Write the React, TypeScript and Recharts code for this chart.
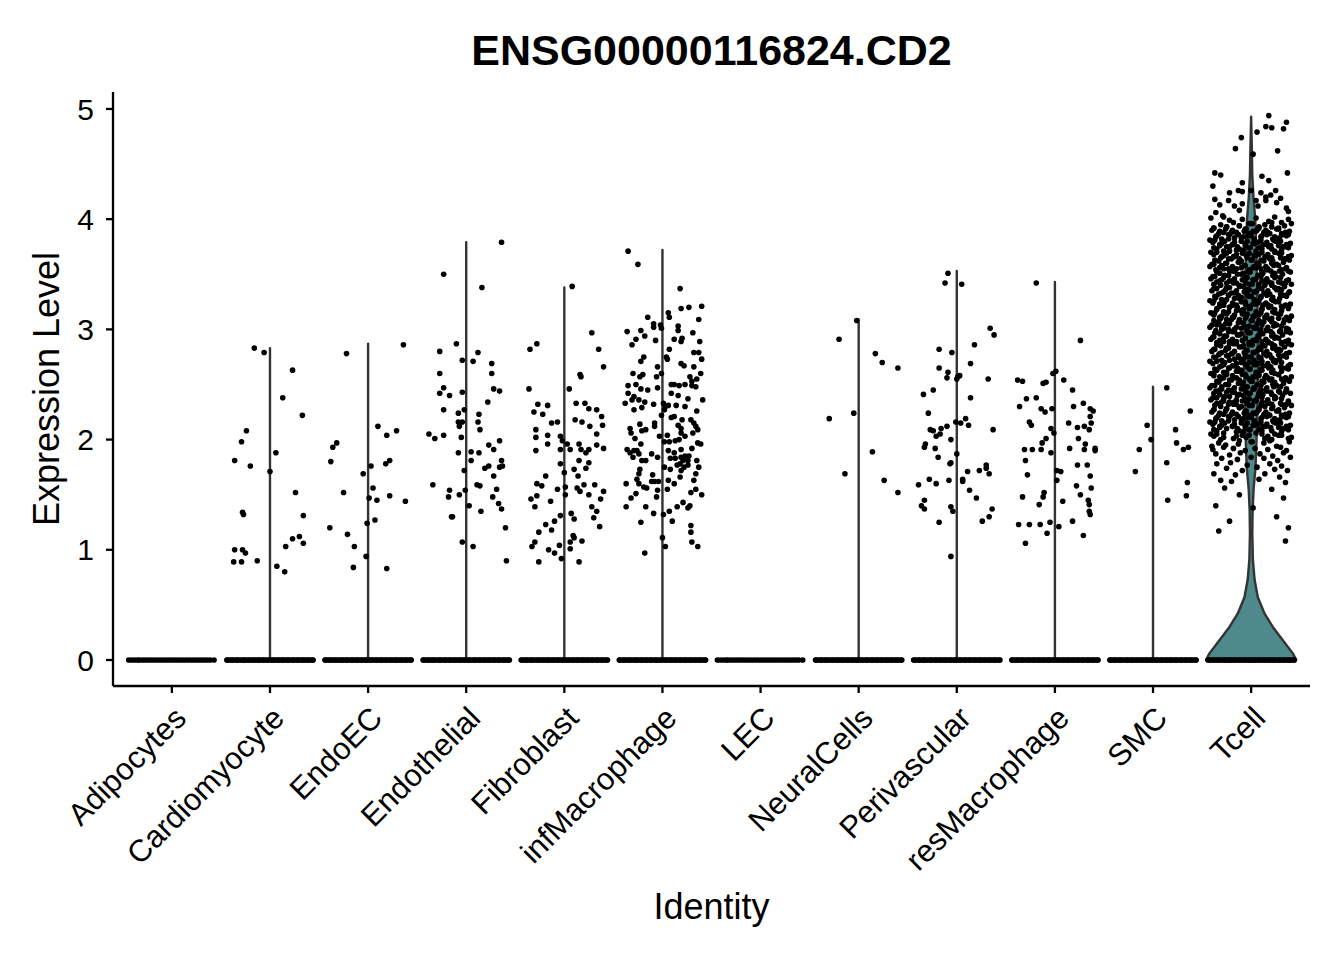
import React from "react";
import { ComposedChart, Scatter, XAxis, YAxis } from "recharts";

// cell identities on the x axis
const categories = [
  "Adipocytes",
  "Cardiomyocyte",
  "EndoEC",
  "Endothelial",
  "Fibroblast",
  "infMacrophage",
  "LEC",
  "NeuralCells",
  "Perivascular",
  "resMacrophage",
  "SMC",
  "Tcell",
];

const yTicks = [0, 1, 2, 3, 4, 5];

// highest expression per group (top of each violin)
const violinTops = [0, 2.83, 2.87, 3.79, 3.38, 3.72, 0, 3.09, 3.53, 3.43, 2.48, 4.93];

// Tcell violin outline: [expression, half width in category units]
const tcellViolin: [number, number][] = [
  [0, 0.46], [0.06, 0.425], [0.18, 0.323], [0.3, 0.221], [0.42, 0.137],
  [0.57, 0.068], [0.73, 0.035], [0.91, 0.018], [1.15, 0.012], [1.35, 0.015],
  [1.55, 0.025], [1.75, 0.045], [2.0, 0.055], [2.3, 0.064], [2.6, 0.07],
  [2.9, 0.07], [3.2, 0.065], [3.5, 0.058], [3.8, 0.05], [4.0, 0.042],
  [4.2, 0.024], [4.4, 0.012], [4.7, 0.006], [4.93, 0],
];

// jitter of the cells sitting at zero
const zeroDense = [
  -0.44, -0.43, -0.41, -0.39, -0.38, -0.36, -0.34, -0.33, -0.31, -0.29, -0.27, -0.26,
  -0.24, -0.22, -0.21, -0.19, -0.17, -0.16, -0.14, -0.12, -0.11, -0.09, -0.07, -0.06,
  -0.04, -0.02, -0.01, 0.01, 0.03, 0.04, 0.06, 0.08, 0.09, 0.11, 0.13, 0.14, 0.16,
  0.18, 0.19, 0.21, 0.23, 0.24, 0.26, 0.28, 0.29, 0.31, 0.33, 0.34, 0.36, 0.38, 0.39,
  0.41, 0.43, 0.44,
];
const zeroSparse = [
  -0.44, -0.41, -0.38, -0.35, -0.33, -0.3, -0.27, -0.24, -0.21, -0.18, -0.15, -0.12,
  -0.09, -0.06, -0.03, 0.0, 0.03, 0.06, 0.09, 0.12, 0.15, 0.18, 0.21, 0.24, 0.27, 0.3,
  0.33, 0.36, 0.39, 0.43,
];

// non-zero cells: [jitter, expression]
const cardiomyocytePts: [number, number][] = [
  [-0.16, 2.83], [-0.06, 2.79], [0.23, 2.63], [0.13, 2.38], [0.33, 2.22], [-0.24, 2.08],
  [-0.29, 1.98], [0.06, 1.88], [-0.36, 1.81], [-0.2, 1.76], [0.0, 1.71], [0.26, 1.52],
  [-0.28, 1.34], [-0.27, 1.32], [0.34, 1.31], [0.23, 1.1], [0.3, 1.12], [0.34, 1.06],
  [0.16, 1.03], [-0.36, 1.0], [-0.28, 1.0], [-0.25, 0.97], [-0.37, 0.89], [-0.29, 0.89],
  [-0.13, 0.9], [0.07, 0.85], [0.15, 0.8],
];

const endoECPts: [number, number][] = [
  [0.36, 2.86], [-0.22, 2.78], [0.1, 2.12], [0.29, 2.08], [0.19, 2.04], [-0.32, 1.97],
  [-0.36, 1.93], [-0.38, 1.8], [0.22, 1.81], [0.18, 1.78], [0.03, 1.76], [-0.05, 1.69],
  [0.05, 1.56], [-0.25, 1.52], [0.01, 1.47], [0.09, 1.45], [0.22, 1.49], [0.38, 1.44],
  [0.07, 1.27], [-0.01, 1.24], [-0.39, 1.2], [-0.21, 1.14], [-0.14, 1.03], [-0.02, 0.94],
  [-0.15, 0.84], [0.19, 0.83],
];

const endothelialPts: [number, number][] = [
  [0.36, 3.79], [-0.23, 3.5], [0.16, 3.38], [-0.1, 2.87], [-0.27, 2.8], [0.12, 2.79],
  [-0.04, 2.72], [0.07, 2.71], [0.26, 2.69], [-0.27, 2.6], [0.26, 2.6], [-0.23, 2.47],
  [-0.27, 2.42], [-0.17, 2.4], [-0.04, 2.43], [0.28, 2.46], [0.34, 2.44], [0.22, 2.34],
  [-0.23, 2.27], [-0.08, 2.24], [-0.02, 2.27], [0.13, 2.23], [-0.08, 2.16], [-0.04, 2.16],
  [0.12, 2.16], [-0.07, 2.12], [0.14, 2.09], [-0.38, 2.05], [-0.32, 2.01], [-0.23, 2.04],
  [-0.05, 2.02], [0.34, 1.99], [0.23, 1.95], [0.28, 1.91], [0.05, 1.89], [-0.08, 1.88],
  [0.13, 1.88], [0.05, 1.81], [0.36, 1.81], [0.34, 1.75], [0.37, 1.76], [0.19, 1.74],
  [0.23, 1.76], [-0.02, 1.72], [0.28, 1.67], [-0.34, 1.59], [0.11, 1.59], [0.14, 1.58],
  [-0.17, 1.54], [-0.01, 1.54], [0.31, 1.55], [-0.18, 1.48], [-0.07, 1.5], [0.27, 1.48],
  [0.33, 1.42], [0.03, 1.4], [0.36, 1.37], [0.15, 1.35], [-0.15, 1.3], [-0.14, 1.3],
  [0.4, 1.2], [-0.04, 1.07], [0.07, 1.03], [0.41, 0.9],
];

const fibroblastPts: [number, number][] = [
  [0.08, 3.39], [0.28, 2.97], [-0.28, 2.87], [-0.35, 2.82], [0.35, 2.82], [0.4, 2.66],
  [0.16, 2.59], [0.17, 2.57], [-0.36, 2.46], [0.05, 2.46], [-0.27, 2.32], [-0.17, 2.31],
  [0.12, 2.33], [0.21, 2.33], [-0.31, 2.25], [-0.22, 2.23], [0.25, 2.28], [0.33, 2.27],
  [0.11, 2.18], [0.18, 2.16], [-0.13, 2.15], [-0.07, 2.16], [0.38, 2.21], [0.39, 2.13],
  [0.26, 2.12], [-0.29, 2.09], [-0.29, 2.02], [-0.17, 2.04], [-0.04, 2.03], [0.33, 2.05],
  [-0.02, 1.99], [0.03, 1.96], [-0.29, 1.9], [-0.17, 1.96], [-0.04, 1.91], [0.06, 1.91],
  [0.15, 1.96], [0.17, 1.91], [0.22, 1.88], [0.25, 1.91], [0.33, 1.95], [0.4, 1.92],
  [0.15, 1.81], [0.25, 1.79], [-0.04, 1.78], [0.22, 1.74], [0.0, 1.7], [0.1, 1.73],
  [-0.19, 1.67], [0.14, 1.67], [-0.28, 1.6], [-0.23, 1.58], [0.01, 1.57], [0.13, 1.56],
  [0.2, 1.59], [0.31, 1.59], [-0.07, 1.55], [0.16, 1.53], [0.4, 1.53], [-0.28, 1.49],
  [0.01, 1.5], [0.25, 1.5], [0.37, 1.46], [-0.34, 1.46], [-0.3, 1.39], [-0.14, 1.44],
  [-0.04, 1.31], [0.07, 1.33], [0.1, 1.28], [0.28, 1.39], [0.33, 1.35], [0.3, 1.29],
  [0.36, 1.21], [-0.26, 1.16], [-0.19, 1.23], [-0.13, 1.18], [-0.1, 1.26], [0.09, 1.13],
  [0.1, 1.11], [-0.3, 1.07], [-0.33, 1.03], [-0.05, 1.04], [0.06, 1.07], [0.18, 1.08],
  [0.06, 1.01], [-0.16, 1.0], [-0.1, 0.97], [-0.03, 0.92], [-0.26, 0.89], [0.15, 0.89],
];

const infMacrophagePts: [number, number][] = [
  [-0.35, 3.71], [-0.25, 3.59], [0.18, 3.37], [0.19, 3.19], [0.27, 3.2], [0.4, 3.21],
  [0.06, 3.15], [0.07, 3.11], [-0.15, 3.11], [0.37, 3.09], [-0.09, 3.05], [-0.09, 3.02],
  [-0.02, 3.04], [-0.01, 3.01], [0.16, 3.03], [0.16, 2.99], [-0.36, 2.98], [-0.22, 2.99],
  [0.31, 2.97], [-0.18, 2.94], [-0.27, 2.91], [-0.07, 2.9], [0.12, 2.91], [0.2, 2.92],
  [0.19, 2.89], [0.38, 2.89], [-0.31, 2.86], [0.07, 2.82], [0.32, 2.79], [0.37, 2.79],
  [-0.19, 2.75], [-0.22, 2.71], [0.04, 2.75], [0.05, 2.73], [0.4, 2.73], [0.19, 2.69],
  [0.22, 2.67], [-0.05, 2.66], [0.32, 2.66], [-0.3, 2.6], [-0.23, 2.57], [-0.2, 2.59],
  [-0.06, 2.57], [-0.01, 2.6], [0.28, 2.57], [0.3, 2.53], [0.35, 2.55], [0.39, 2.6],
  [-0.35, 2.49], [-0.27, 2.5], [-0.22, 2.46], [-0.15, 2.45], [-0.05, 2.47], [0.09, 2.5],
  [0.12, 2.5], [0.17, 2.49], [0.23, 2.5], [0.3, 2.49], [0.34, 2.48], [-0.35, 2.42],
  [-0.29, 2.39], [-0.31, 2.36], [-0.38, 2.33], [-0.24, 2.36], [-0.18, 2.34], [-0.21, 2.29],
  [-0.09, 2.32], [0.09, 2.42], [0.16, 2.4], [0.26, 2.37], [0.41, 2.36], [0.01, 2.33],
  [0.03, 2.3], [0.06, 2.31], [0.02, 2.27], [0.14, 2.31], [0.23, 2.3], [0.35, 2.26],
  [-0.29, 2.27], [0.09, 2.2], [0.12, 2.21], [0.2, 2.18], [0.29, 2.18], [-0.01, 2.22],
  [-0.23, 2.14], [-0.08, 2.15], [-0.08, 2.12], [0.16, 2.13], [0.19, 2.1], [0.32, 2.15],
  [0.34, 2.12], [0.36, 2.09], [-0.33, 2.1], [-0.32, 2.06], [-0.17, 2.09], [-0.21, 2.08],
  [-0.28, 2.01], [-0.03, 2.03], [0.05, 2.04], [0.19, 2.06], [0.23, 2.03], [0.31, 2.06],
  [0.02, 1.98], [0.07, 1.98], [0.13, 1.99], [0.17, 2.0], [0.36, 1.97], [0.39, 1.96],
  [-0.22, 1.96], [-0.36, 1.91], [-0.33, 1.88], [-0.29, 1.9], [-0.26, 1.9], [-0.24, 1.87],
  [-0.3, 1.84], [-0.11, 1.87], [-0.05, 1.84], [0.06, 1.9], [0.12, 1.88], [0.19, 1.91],
  [0.3, 1.92], [-0.21, 1.81], [-0.17, 1.81], [0.08, 1.83], [0.13, 1.83], [0.19, 1.84],
  [0.21, 1.81], [0.23, 1.85], [0.27, 1.85], [0.26, 1.81], [0.35, 1.81], [0.37, 1.75],
  [0.15, 1.77], [0.18, 1.78], [0.22, 1.75], [0.26, 1.77], [0.19, 1.72], [0.18, 1.66],
  [0.02, 1.75], [0.08, 1.73], [-0.23, 1.73], [-0.24, 1.69], [-0.26, 1.64], [-0.24, 1.6],
  [-0.19, 1.57], [-0.16, 1.56], [-0.1, 1.68], [-0.11, 1.62], [-0.08, 1.62], [-0.04, 1.62],
  [-0.37, 1.6], [0.06, 1.63], [0.12, 1.6], [0.32, 1.63], [0.34, 1.69], [-0.05, 1.54],
  [0.05, 1.55], [0.34, 1.55], [0.29, 1.52], [0.4, 1.5], [-0.27, 1.51], [-0.32, 1.47],
  [-0.06, 1.48], [-0.37, 1.39], [-0.17, 1.39], [-0.09, 1.33], [0.01, 1.32], [0.07, 1.35],
  [0.15, 1.39], [0.21, 1.43], [0.26, 1.38], [0.28, 1.4], [0.1, 1.26], [-0.22, 1.25],
  [0.29, 1.22], [0.29, 1.16], [0.0, 1.11], [0.03, 1.03], [0.3, 1.07], [0.36, 1.03],
  [-0.18, 0.97],
];

const neuralCellsPts: [number, number][] = [
  [-0.02, 3.08], [-0.2, 2.91], [0.17, 2.78], [0.24, 2.7], [0.4, 2.65], [-0.3, 2.19],
  [-0.05, 2.24], [0.14, 1.89], [-0.14, 1.69], [0.26, 1.63], [0.4, 1.52],
];

const perivascularPts: [number, number][] = [
  [-0.09, 3.51], [-0.12, 3.42], [0.05, 3.41], [0.34, 3.01], [0.38, 2.95], [0.18, 2.86],
  [-0.18, 2.82], [-0.05, 2.79], [-0.18, 2.65], [0.14, 2.69], [-0.09, 2.61], [-0.1, 2.56],
  [0.01, 2.57], [0.03, 2.58], [0.0, 2.55], [0.32, 2.55], [-0.34, 2.41], [-0.24, 2.45],
  [0.14, 2.38], [-0.29, 2.24], [0.09, 2.19], [0.04, 2.15], [0.12, 2.13], [-0.01, 2.16],
  [0.37, 2.09], [-0.1, 2.12], [-0.16, 2.1], [-0.17, 2.05], [-0.21, 2.03], [-0.27, 2.09],
  [-0.24, 2.08], [-0.06, 2.0], [-0.32, 1.96], [-0.33, 1.93], [-0.22, 1.92], [-0.19, 1.84],
  [0.0, 1.87], [-0.06, 1.79], [-0.07, 1.78], [0.3, 1.77], [0.3, 1.74], [0.33, 1.69],
  [0.23, 1.72], [0.11, 1.71], [-0.28, 1.64], [-0.21, 1.6], [-0.08, 1.63], [0.06, 1.64],
  [0.06, 1.62], [-0.39, 1.59], [0.13, 1.54], [0.2, 1.47], [-0.33, 1.45], [-0.36, 1.4],
  [-0.33, 1.37], [-0.06, 1.39], [-0.04, 1.35], [0.36, 1.37], [0.33, 1.3], [0.26, 1.26],
  [-0.18, 1.25], [-0.06, 0.94],
];

const resMacrophagePts: [number, number][] = [
  [-0.19, 3.42], [0.26, 2.9], [0.01, 2.62], [-0.02, 2.6], [-0.38, 2.54], [-0.33, 2.53],
  [-0.12, 2.51], [-0.09, 2.52], [0.09, 2.54], [0.18, 2.45], [-0.19, 2.38], [-0.29, 2.37],
  [-0.36, 2.3], [-0.14, 2.28], [-0.1, 2.25], [-0.03, 2.28], [0.19, 2.3], [0.29, 2.33],
  [0.36, 2.28], [0.39, 2.26], [0.36, 2.21], [-0.26, 2.16], [-0.24, 2.13], [-0.04, 2.1],
  [-0.01, 2.06], [0.14, 2.15], [0.23, 2.11], [0.3, 2.12], [0.35, 2.09], [0.37, 2.15],
  [-0.09, 2.01], [-0.13, 1.97], [0.24, 2.01], [-0.31, 1.91], [-0.23, 1.91], [-0.14, 1.91],
  [-0.04, 1.88], [0.15, 1.92], [0.3, 1.91], [0.31, 1.96], [0.41, 1.92], [0.41, 1.9],
  [-0.3, 1.81], [0.23, 1.77], [0.33, 1.77], [0.02, 1.72], [0.06, 1.71], [0.02, 1.63],
  [-0.28, 1.68], [0.36, 1.67], [0.22, 1.58], [0.26, 1.5], [0.37, 1.56], [-0.11, 1.52],
  [-0.12, 1.48], [-0.16, 1.41], [-0.33, 1.48], [0.08, 1.44], [0.34, 1.45], [0.35, 1.41],
  [0.35, 1.35], [0.36, 1.32], [-0.37, 1.23], [-0.26, 1.23], [-0.15, 1.23], [-0.05, 1.25],
  [0.04, 1.21], [0.18, 1.26], [-0.08, 1.15], [0.29, 1.13], [-0.3, 1.06],
];

const smcPts: [number, number][] = [
  [0.14, 2.47], [0.38, 2.26], [-0.06, 2.13], [0.23, 2.09], [-0.02, 2.0], [0.24, 1.97],
  [0.36, 1.93], [0.31, 1.91], [-0.14, 1.91], [0.14, 1.79], [-0.18, 1.71], [0.35, 1.61],
  [0.34, 1.49], [0.15, 1.45],
];

const tcellPts: [number, number][] = [
  // sparse top
  [0.18, 4.94], [0.36, 4.88], [0.15, 4.84], [0.21, 4.83], [0.06, 4.79], [0.33, 4.82],
  [-0.1, 4.74], [-0.16, 4.64], [0.27, 4.62], [0.02, 4.59], [0.37, 4.42], [-0.37, 4.42],
  [-0.31, 4.4], [0.11, 4.39], [0.18, 4.35], [-0.39, 4.3], [-0.09, 4.33], [-0.22, 4.24],
  [-0.13, 4.26], [-0.09, 4.25], [0.0, 4.26], [0.1, 4.24], [0.15, 4.2], [0.2, 4.22],
  [0.25, 4.26], [0.3, 4.19], [-0.37, 4.18], [-0.32, 4.13], [-0.23, 4.17], [-0.17, 4.12],
  [-0.09, 4.14], [-0.12, 4.08], [0.05, 4.17], [0.07, 4.12], [0.15, 4.17], [0.26, 4.15],
  [0.36, 4.1], [0.38, 4.07], [-0.36, 4.06], [-0.29, 4.03],
  // dense core
  [-0.41, 4.01], [-0.28, 4.02], [-0.22, 3.99], [-0.09, 4.0], [-0.02, 3.96], [0.05, 4.01], [0.18, 3.98], [0.24, 4.02], [0.31, 3.97], [0.38, 4.0],
  [-0.38, 3.92], [-0.31, 3.95], [-0.25, 3.93], [-0.18, 3.97], [-0.12, 3.94], [-0.05, 3.91], [0.01, 3.96], [0.08, 3.93], [0.14, 3.95], [0.21, 3.97], [0.28, 3.92], [0.34, 3.94], [0.41, 3.96],
  [-0.4, 3.9], [-0.33, 3.87], [-0.26, 3.91], [-0.2, 3.88], [-0.13, 3.86], [-0.07, 3.89], [0.0, 3.85], [0.06, 3.9], [0.13, 3.88], [0.19, 3.87], [0.26, 3.91], [0.33, 3.86], [0.39, 3.89],
  [-0.42, 3.81], [-0.36, 3.84], [-0.3, 3.82], [-0.23, 3.86], [-0.17, 3.83], [-0.1, 3.8], [-0.03, 3.85], [0.03, 3.82], [0.1, 3.84], [0.16, 3.86], [0.23, 3.81], [0.29, 3.83], [0.36, 3.85],
  [-0.39, 3.79], [-0.32, 3.76], [-0.27, 3.8], [-0.19, 3.77], [-0.14, 3.75], [-0.06, 3.78], [-0.01, 3.74], [0.07, 3.79], [0.12, 3.77], [0.2, 3.76], [0.25, 3.8], [0.32, 3.75], [0.4, 3.78],
  [-0.41, 3.7], [-0.35, 3.73], [-0.28, 3.71], [-0.22, 3.75], [-0.15, 3.72], [-0.09, 3.69], [-0.02, 3.74], [0.05, 3.71], [0.11, 3.73], [0.18, 3.75], [0.24, 3.7], [0.31, 3.72], [0.38, 3.74],
  [-0.38, 3.68], [-0.31, 3.65], [-0.25, 3.69], [-0.18, 3.66], [-0.12, 3.64], [-0.05, 3.67], [0.01, 3.63], [0.08, 3.68], [0.14, 3.66], [0.21, 3.65], [0.28, 3.69], [0.34, 3.64], [0.41, 3.67],
  [-0.4, 3.59], [-0.33, 3.62], [-0.26, 3.6], [-0.2, 3.64], [-0.13, 3.61], [-0.07, 3.58], [0.0, 3.63], [0.06, 3.6], [0.13, 3.62], [0.19, 3.64], [0.26, 3.59], [0.33, 3.61], [0.39, 3.63],
  [-0.42, 3.57], [-0.36, 3.54], [-0.3, 3.58], [-0.23, 3.55], [-0.17, 3.53], [-0.1, 3.56], [-0.03, 3.52], [0.03, 3.57], [0.1, 3.55], [0.16, 3.54], [0.23, 3.58], [0.29, 3.53], [0.36, 3.56],
  [-0.39, 3.48], [-0.32, 3.51], [-0.27, 3.49], [-0.19, 3.53], [-0.14, 3.5], [-0.06, 3.47], [-0.01, 3.52], [0.07, 3.49], [0.12, 3.51], [0.2, 3.53], [0.25, 3.48], [0.32, 3.5], [0.4, 3.52],
  [-0.41, 3.46], [-0.35, 3.43], [-0.28, 3.47], [-0.22, 3.44], [-0.15, 3.42], [-0.09, 3.45], [-0.02, 3.41], [0.05, 3.46], [0.11, 3.44], [0.18, 3.43], [0.24, 3.47], [0.31, 3.42], [0.38, 3.45],
  [-0.38, 3.37], [-0.31, 3.4], [-0.25, 3.38], [-0.18, 3.42], [-0.12, 3.39], [-0.05, 3.36], [0.01, 3.41], [0.08, 3.38], [0.14, 3.4], [0.21, 3.42], [0.28, 3.37], [0.34, 3.39], [0.41, 3.41],
  [-0.4, 3.35], [-0.33, 3.32], [-0.26, 3.36], [-0.2, 3.33], [-0.13, 3.31], [-0.07, 3.34], [0.0, 3.3], [0.06, 3.35], [0.13, 3.33], [0.19, 3.32], [0.26, 3.36], [0.33, 3.31], [0.39, 3.34],
  [-0.42, 3.26], [-0.36, 3.29], [-0.3, 3.27], [-0.23, 3.31], [-0.17, 3.28], [-0.1, 3.25], [-0.03, 3.3], [0.03, 3.27], [0.1, 3.29], [0.16, 3.31], [0.23, 3.26], [0.29, 3.28], [0.36, 3.3],
  [-0.39, 3.24], [-0.32, 3.21], [-0.27, 3.25], [-0.19, 3.22], [-0.14, 3.2], [-0.06, 3.23], [-0.01, 3.19], [0.07, 3.24], [0.12, 3.22], [0.2, 3.21], [0.25, 3.25], [0.32, 3.2], [0.4, 3.23],
  [-0.41, 3.15], [-0.35, 3.18], [-0.28, 3.16], [-0.22, 3.2], [-0.15, 3.17], [-0.09, 3.14], [-0.02, 3.19], [0.05, 3.16], [0.11, 3.18], [0.18, 3.2], [0.24, 3.15], [0.31, 3.17], [0.38, 3.19],
  [-0.38, 3.13], [-0.31, 3.1], [-0.25, 3.14], [-0.18, 3.11], [-0.12, 3.09], [-0.05, 3.12], [0.01, 3.08], [0.08, 3.13], [0.14, 3.11], [0.21, 3.1], [0.28, 3.14], [0.34, 3.09], [0.41, 3.12],
  [-0.4, 3.04], [-0.33, 3.07], [-0.26, 3.05], [-0.2, 3.09], [-0.13, 3.06], [-0.07, 3.03], [0.0, 3.08], [0.06, 3.05], [0.13, 3.07], [0.19, 3.09], [0.26, 3.04], [0.33, 3.06], [0.39, 3.08],
  [-0.42, 3.02], [-0.36, 2.99], [-0.3, 3.03], [-0.23, 3.0], [-0.17, 2.98], [-0.1, 3.01], [-0.03, 2.97], [0.03, 3.02], [0.1, 3.0], [0.16, 2.99], [0.23, 3.03], [0.29, 2.98], [0.36, 3.01],
  [-0.39, 2.93], [-0.32, 2.96], [-0.27, 2.94], [-0.19, 2.98], [-0.14, 2.95], [-0.06, 2.92], [-0.01, 2.97], [0.07, 2.94], [0.12, 2.96], [0.2, 2.98], [0.25, 2.93], [0.32, 2.95], [0.4, 2.97],
  [-0.41, 2.91], [-0.35, 2.88], [-0.28, 2.92], [-0.22, 2.89], [-0.15, 2.87], [-0.09, 2.9], [-0.02, 2.86], [0.05, 2.91], [0.11, 2.89], [0.18, 2.88], [0.24, 2.92], [0.31, 2.87], [0.38, 2.9],
  [-0.38, 2.82], [-0.31, 2.85], [-0.25, 2.83], [-0.18, 2.87], [-0.12, 2.84], [-0.05, 2.81], [0.01, 2.86], [0.08, 2.83], [0.14, 2.85], [0.21, 2.87], [0.28, 2.82], [0.34, 2.84], [0.41, 2.86],
  [-0.4, 2.8], [-0.33, 2.77], [-0.26, 2.81], [-0.2, 2.78], [-0.13, 2.76], [-0.07, 2.79], [0.0, 2.75], [0.06, 2.8], [0.13, 2.78], [0.19, 2.77], [0.26, 2.81], [0.33, 2.76], [0.39, 2.79],
  [-0.42, 2.71], [-0.36, 2.74], [-0.3, 2.72], [-0.23, 2.76], [-0.17, 2.73], [-0.1, 2.7], [-0.03, 2.75], [0.03, 2.72], [0.1, 2.74], [0.16, 2.76], [0.23, 2.71], [0.29, 2.73], [0.36, 2.75],
  [-0.39, 2.69], [-0.32, 2.66], [-0.27, 2.7], [-0.19, 2.67], [-0.14, 2.65], [-0.06, 2.68], [-0.01, 2.64], [0.07, 2.69], [0.12, 2.67], [0.2, 2.66], [0.25, 2.7], [0.32, 2.65], [0.4, 2.68],
  [-0.41, 2.6], [-0.35, 2.63], [-0.28, 2.61], [-0.22, 2.65], [-0.15, 2.62], [-0.09, 2.59], [-0.02, 2.64], [0.05, 2.61], [0.11, 2.63], [0.18, 2.65], [0.24, 2.6], [0.31, 2.62], [0.38, 2.64],
  [-0.38, 2.58], [-0.31, 2.55], [-0.25, 2.59], [-0.18, 2.56], [-0.12, 2.54], [-0.05, 2.57], [0.01, 2.53], [0.08, 2.58], [0.14, 2.56], [0.21, 2.55], [0.28, 2.59], [0.34, 2.54], [0.41, 2.57],
  [-0.4, 2.49], [-0.33, 2.52], [-0.26, 2.5], [-0.2, 2.54], [-0.13, 2.51], [-0.07, 2.48], [0.0, 2.53], [0.06, 2.5], [0.13, 2.52], [0.19, 2.54], [0.26, 2.49], [0.33, 2.51], [0.39, 2.53],
  [-0.42, 2.47], [-0.36, 2.44], [-0.3, 2.48], [-0.23, 2.45], [-0.17, 2.43], [-0.1, 2.46], [-0.03, 2.42], [0.03, 2.47], [0.1, 2.45], [0.16, 2.44], [0.23, 2.48], [0.29, 2.43], [0.36, 2.46],
  [-0.39, 2.38], [-0.32, 2.41], [-0.27, 2.39], [-0.19, 2.43], [-0.14, 2.4], [-0.06, 2.37], [-0.01, 2.42], [0.07, 2.39], [0.12, 2.41], [0.2, 2.43], [0.25, 2.38], [0.32, 2.4], [0.4, 2.42],
  [-0.41, 2.36], [-0.35, 2.33], [-0.28, 2.37], [-0.22, 2.34], [-0.15, 2.32], [-0.09, 2.35], [-0.02, 2.31], [0.05, 2.36], [0.11, 2.34], [0.18, 2.33], [0.24, 2.37], [0.31, 2.32], [0.38, 2.35],
  [-0.38, 2.27], [-0.31, 2.3], [-0.25, 2.28], [-0.18, 2.32], [-0.12, 2.29], [-0.05, 2.26], [0.01, 2.31], [0.08, 2.28], [0.14, 2.3], [0.21, 2.32], [0.28, 2.27], [0.34, 2.29], [0.41, 2.31],
  [-0.4, 2.25], [-0.33, 2.22], [-0.26, 2.26], [-0.2, 2.23], [-0.13, 2.21], [-0.07, 2.24], [0.0, 2.2], [0.06, 2.25], [0.13, 2.23], [0.19, 2.22], [0.26, 2.26], [0.33, 2.21], [0.39, 2.24],
  [-0.42, 2.16], [-0.36, 2.19], [-0.3, 2.17], [-0.23, 2.21], [-0.17, 2.18], [-0.1, 2.15], [-0.03, 2.2], [0.03, 2.17], [0.1, 2.19], [0.16, 2.21], [0.23, 2.16], [0.29, 2.18], [0.36, 2.2],
  [-0.39, 2.14], [-0.32, 2.11], [-0.27, 2.15], [-0.19, 2.12], [-0.14, 2.1], [-0.06, 2.13], [-0.01, 2.09], [0.07, 2.14], [0.12, 2.12], [0.2, 2.11], [0.25, 2.15], [0.32, 2.1], [0.4, 2.13],
  [-0.41, 2.05], [-0.35, 2.08], [-0.28, 2.06], [-0.15, 2.07], [-0.09, 2.04], [-0.02, 2.09], [0.05, 2.06], [0.11, 2.08], [0.24, 2.05], [0.31, 2.07], [0.38, 2.09],
  [-0.38, 2.03], [-0.31, 2.0], [-0.18, 2.01], [-0.12, 1.99], [-0.05, 2.02], [0.01, 1.98], [0.14, 2.01], [0.21, 2.0], [0.28, 2.04], [0.41, 2.02],
  [-0.4, 1.94], [-0.26, 1.95], [-0.13, 1.96], [0.0, 1.98], [0.13, 1.97], [0.26, 1.94], [0.39, 1.98], [-0.33, 1.97], [0.19, 1.99],
  // dense core, cells between the rows above
  [-0.38, 3.92], [-0.32, 3.89], [-0.25, 3.93], [-0.19, 3.9], [-0.12, 3.94], [-0.06, 3.91], [0.02, 3.89], [0.08, 3.92], [0.15, 3.9], [0.21, 3.93], [0.28, 3.91], [0.35, 3.88],
  [-0.35, 3.85], [-0.28, 3.88], [-0.22, 3.86], [-0.15, 3.88], [-0.08, 3.84], [-0.02, 3.87], [0.05, 3.89], [0.11, 3.85], [0.17, 3.88], [0.24, 3.84], [0.31, 3.87], [0.38, 3.86],
  [-0.37, 3.81], [-0.3, 3.78], [-0.23, 3.82], [-0.17, 3.79], [-0.1, 3.83], [-0.04, 3.8], [0.03, 3.78], [0.1, 3.81], [0.16, 3.79], [0.22, 3.82], [0.3, 3.8], [0.36, 3.77],
  [-0.38, 3.74], [-0.32, 3.77], [-0.25, 3.75], [-0.19, 3.77], [-0.12, 3.73], [-0.06, 3.76], [0.02, 3.78], [0.08, 3.74], [0.15, 3.77], [0.21, 3.73], [0.28, 3.76], [0.35, 3.75],
  [-0.35, 3.7], [-0.28, 3.67], [-0.22, 3.71], [-0.15, 3.68], [-0.08, 3.72], [-0.02, 3.69], [0.05, 3.67], [0.11, 3.7], [0.17, 3.68], [0.24, 3.71], [0.31, 3.69], [0.38, 3.66],
  [-0.37, 3.63], [-0.3, 3.66], [-0.23, 3.64], [-0.17, 3.66], [-0.1, 3.62], [-0.04, 3.65], [0.03, 3.67], [0.1, 3.63], [0.16, 3.66], [0.22, 3.62], [0.3, 3.65], [0.36, 3.64],
  [-0.38, 3.59], [-0.32, 3.56], [-0.25, 3.6], [-0.19, 3.57], [-0.12, 3.61], [-0.06, 3.58], [0.02, 3.56], [0.08, 3.59], [0.15, 3.57], [0.21, 3.6], [0.28, 3.58], [0.35, 3.55],
  [-0.35, 3.52], [-0.28, 3.55], [-0.22, 3.53], [-0.15, 3.55], [-0.08, 3.51], [-0.02, 3.54], [0.05, 3.56], [0.11, 3.52], [0.17, 3.55], [0.24, 3.51], [0.31, 3.54], [0.38, 3.53],
  [-0.37, 3.48], [-0.3, 3.45], [-0.23, 3.49], [-0.17, 3.46], [-0.1, 3.5], [-0.04, 3.47], [0.03, 3.45], [0.1, 3.48], [0.16, 3.46], [0.22, 3.49], [0.3, 3.47], [0.36, 3.44],
  [-0.38, 3.41], [-0.32, 3.44], [-0.25, 3.42], [-0.19, 3.44], [-0.12, 3.4], [-0.06, 3.43], [0.02, 3.45], [0.08, 3.41], [0.15, 3.44], [0.21, 3.4], [0.28, 3.43], [0.35, 3.42],
  [-0.35, 3.37], [-0.28, 3.34], [-0.22, 3.38], [-0.15, 3.35], [-0.08, 3.39], [-0.02, 3.36], [0.05, 3.34], [0.11, 3.37], [0.17, 3.35], [0.24, 3.38], [0.31, 3.36], [0.38, 3.33],
  [-0.37, 3.3], [-0.3, 3.33], [-0.23, 3.31], [-0.17, 3.33], [-0.1, 3.29], [-0.04, 3.32], [0.03, 3.34], [0.1, 3.3], [0.16, 3.33], [0.22, 3.29], [0.3, 3.32], [0.36, 3.31],
  [-0.38, 3.26], [-0.32, 3.23], [-0.25, 3.27], [-0.19, 3.24], [-0.12, 3.28], [-0.06, 3.25], [0.02, 3.23], [0.08, 3.26], [0.15, 3.24], [0.21, 3.27], [0.28, 3.25], [0.35, 3.22],
  [-0.35, 3.19], [-0.28, 3.22], [-0.22, 3.2], [-0.15, 3.22], [-0.08, 3.18], [-0.02, 3.21], [0.05, 3.23], [0.11, 3.19], [0.17, 3.22], [0.24, 3.18], [0.31, 3.21], [0.38, 3.2],
  [-0.37, 3.15], [-0.3, 3.12], [-0.23, 3.16], [-0.17, 3.13], [-0.1, 3.17], [-0.04, 3.14], [0.03, 3.12], [0.1, 3.15], [0.16, 3.13], [0.22, 3.16], [0.3, 3.14], [0.36, 3.11],
  [-0.38, 3.08], [-0.32, 3.11], [-0.25, 3.09], [-0.19, 3.11], [-0.12, 3.07], [-0.06, 3.1], [0.02, 3.12], [0.08, 3.08], [0.15, 3.11], [0.21, 3.07], [0.28, 3.1], [0.35, 3.09],
  [-0.35, 3.04], [-0.28, 3.01], [-0.22, 3.05], [-0.15, 3.02], [-0.08, 3.06], [-0.02, 3.03], [0.05, 3.01], [0.11, 3.04], [0.17, 3.02], [0.24, 3.05], [0.31, 3.03], [0.38, 3.0],
  [-0.37, 2.97], [-0.3, 3.0], [-0.23, 2.98], [-0.17, 3.0], [-0.1, 2.96], [-0.04, 2.99], [0.03, 3.01], [0.1, 2.97], [0.16, 3.0], [0.22, 2.96], [0.3, 2.99], [0.36, 2.98],
  [-0.38, 2.93], [-0.32, 2.9], [-0.25, 2.94], [-0.19, 2.91], [-0.12, 2.95], [-0.06, 2.92], [0.02, 2.9], [0.08, 2.93], [0.15, 2.91], [0.21, 2.94], [0.28, 2.92], [0.35, 2.89],
  [-0.35, 2.86], [-0.28, 2.89], [-0.22, 2.87], [-0.15, 2.89], [-0.08, 2.85], [-0.02, 2.88], [0.05, 2.9], [0.11, 2.86], [0.17, 2.89], [0.24, 2.85], [0.31, 2.88], [0.38, 2.87],
  [-0.37, 2.82], [-0.3, 2.79], [-0.23, 2.83], [-0.17, 2.8], [-0.1, 2.84], [-0.04, 2.81], [0.03, 2.79], [0.1, 2.82], [0.16, 2.8], [0.22, 2.83], [0.3, 2.81], [0.36, 2.78],
  [-0.38, 2.75], [-0.32, 2.78], [-0.25, 2.76], [-0.19, 2.78], [-0.12, 2.74], [-0.06, 2.77], [0.02, 2.79], [0.08, 2.75], [0.15, 2.78], [0.21, 2.74], [0.28, 2.77], [0.35, 2.76],
  [-0.35, 2.71], [-0.28, 2.68], [-0.22, 2.72], [-0.15, 2.69], [-0.08, 2.73], [-0.02, 2.7], [0.05, 2.68], [0.11, 2.71], [0.17, 2.69], [0.24, 2.72], [0.31, 2.7], [0.38, 2.67],
  [-0.37, 2.64], [-0.3, 2.67], [-0.23, 2.65], [-0.17, 2.67], [-0.1, 2.63], [-0.04, 2.66], [0.03, 2.68], [0.1, 2.64], [0.16, 2.67], [0.22, 2.63], [0.3, 2.66], [0.36, 2.65],
  [-0.38, 2.6], [-0.32, 2.57], [-0.25, 2.61], [-0.19, 2.58], [-0.12, 2.62], [-0.06, 2.59], [0.02, 2.57], [0.08, 2.6], [0.15, 2.58], [0.21, 2.61], [0.28, 2.59], [0.35, 2.56],
  [-0.35, 2.53], [-0.28, 2.56], [-0.22, 2.54], [-0.15, 2.56], [-0.08, 2.52], [-0.02, 2.55], [0.05, 2.57], [0.11, 2.53], [0.17, 2.56], [0.24, 2.52], [0.31, 2.55], [0.38, 2.54],
  [-0.37, 2.49], [-0.3, 2.46], [-0.23, 2.5], [-0.17, 2.47], [-0.1, 2.51], [-0.04, 2.48], [0.03, 2.46], [0.1, 2.49], [0.16, 2.47], [0.22, 2.5], [0.3, 2.48], [0.36, 2.45],
  [-0.38, 2.42], [-0.32, 2.45], [-0.25, 2.43], [-0.19, 2.45], [-0.12, 2.41], [-0.06, 2.44], [0.02, 2.46], [0.08, 2.42], [0.15, 2.45], [0.21, 2.41], [0.28, 2.44], [0.35, 2.43],
  [-0.35, 2.38], [-0.28, 2.35], [-0.22, 2.39], [-0.15, 2.36], [-0.08, 2.4], [-0.02, 2.37], [0.05, 2.35], [0.11, 2.38], [0.17, 2.36], [0.24, 2.39], [0.31, 2.37], [0.38, 2.34],
  [-0.37, 2.31], [-0.3, 2.34], [-0.23, 2.32], [-0.17, 2.34], [-0.1, 2.3], [-0.04, 2.33], [0.03, 2.35], [0.1, 2.31], [0.16, 2.34], [0.22, 2.3], [0.3, 2.33], [0.36, 2.32],
  [-0.38, 2.27], [-0.32, 2.24], [-0.25, 2.28], [-0.19, 2.25], [-0.12, 2.29], [-0.06, 2.26], [0.02, 2.24], [0.08, 2.27], [0.15, 2.25], [0.21, 2.28], [0.28, 2.26], [0.35, 2.23],
  [-0.35, 2.2], [-0.28, 2.23], [-0.22, 2.21], [-0.15, 2.23], [-0.08, 2.19], [-0.02, 2.22], [0.05, 2.24], [0.11, 2.2], [0.17, 2.23], [0.24, 2.19], [0.31, 2.22], [0.38, 2.21],
  [-0.37, 2.16], [-0.3, 2.13], [-0.23, 2.17], [-0.17, 2.14], [-0.1, 2.18], [-0.04, 2.15], [0.03, 2.13], [0.1, 2.16], [0.16, 2.14], [0.22, 2.17], [0.3, 2.15], [0.36, 2.12],
  [-0.38, 2.09], [-0.32, 2.12], [-0.25, 2.1], [-0.19, 2.12], [-0.12, 2.08], [-0.06, 2.11], [0.02, 2.13], [0.08, 2.09], [0.15, 2.12], [0.21, 2.08], [0.28, 2.11], [0.35, 2.1],
  [-0.35, 2.05], [-0.28, 2.02], [-0.15, 2.03], [-0.08, 2.07], [-0.02, 2.04], [0.11, 2.05], [0.17, 2.03], [0.31, 2.04], [0.38, 2.01],
  // ragged bottom
  [-0.39, 1.91], [-0.28, 1.93], [-0.18, 1.92], [-0.06, 1.9], [0.04, 1.92], [0.17, 1.91], [0.3, 1.93], [0.36, 1.9],
  [-0.36, 1.87], [-0.22, 1.86], [-0.11, 1.88], [0.09, 1.87], [0.22, 1.85], [0.33, 1.88],
  [-0.3, 1.83], [-0.14, 1.82], [0.0, 1.84], [0.13, 1.83], [0.27, 1.81], [0.4, 1.84],
  [-0.35, 1.78], [-0.21, 1.79], [-0.04, 1.77], [0.19, 1.78], [0.31, 1.76],
  [-0.25, 1.74], [-0.09, 1.72], [0.06, 1.75], [0.24, 1.73], [0.37, 1.72],
  [-0.38, 1.69], [-0.16, 1.68], [0.14, 1.69], [0.29, 1.66],
  [-0.31, 1.63], [-0.2, 1.62], [0.08, 1.64], [0.35, 1.61],
  [-0.27, 1.56], [0.21, 1.55], [-0.12, 1.5], [0.33, 1.47], [-0.36, 1.4], [0.02, 1.38],
  [0.26, 1.3], [-0.22, 1.26], [0.38, 1.2], [-0.33, 1.17], [0.35, 1.08],
];

const groupPoints: [number, number][][] = [
  [],
  cardiomyocytePts,
  endoECPts,
  endothelialPts,
  fibroblastPts,
  infMacrophagePts,
  [],
  neuralCellsPts,
  perivascularPts,
  resMacrophagePts,
  smcPts,
  tcellPts,
];

const sparseZeroGroups = ["Adipocytes", "LEC"];
const VIOLIN_FILL = "#4E8A8B";

const FONT = '"Liberation Sans", Arial, Helvetica, sans-serif';

type Pt = { x: number; y: number };

const cellData: Pt[][] = categories.map((name, i) => {
  const zeros = (sparseZeroGroups.includes(name) ? zeroSparse : zeroDense).map((j) => ({ x: i + j, y: 0 }));
  const rest = groupPoints[i].map(([j, v]) => ({ x: i + j, y: v }));
  return [...zeros, ...rest];
});

const violinData: Pt[][] = categories.map((name, i) => {
  if (name === "Tcell") {
    const left = tcellViolin.map(([v, w]) => ({ x: i - w, y: v }));
    const right = [...tcellViolin].reverse().map(([v, w]) => ({ x: i + w, y: v }));
    return [...left, ...right];
  }
  return violinTops[i] > 0 ? [{ x: i, y: 0 }, { x: i, y: violinTops[i] }] : [];
});

const violinPath = (fill: string) => (props: any) => {
  const pts: { x: number; y: number }[] = props.points || [];
  if (!pts.length) return <g />;
  const d = pts.map((p, k) => `${k ? "L" : "M"}${p.x},${p.y}`).join(" ") + " Z";
  return <path d={d} fill={fill} stroke="#333333" strokeWidth={2.4} strokeLinejoin="round" />;
};

const CellDot = (props: any) => <circle cx={props.cx} cy={props.cy} r={2.8} fill="#000" />;

const CategoryTick = (props: any) => {
  const { x, y, payload } = props;
  const tx = x + 16;
  const ty = y + 25;
  return (
    <text x={tx} y={ty} transform={`rotate(-45 ${tx} ${ty})`} textAnchor="end" fontSize={31} fill="#000" fontFamily={FONT}>
      {categories[payload.value]}
    </text>
  );
};

export default function App() {
  return (
    <div style={{ position: "absolute", left: 0, top: 0, width: 1344, height: 960, background: "#fff", fontFamily: FONT }}>
      <div
        style={{
          position: "absolute",
          left: 113,
          width: 1197,
          top: 29,
          textAlign: "center",
          fontSize: 43,
          lineHeight: "43px",
          fontWeight: "bold",
          color: "#000",
        }}
      >
        ENSG00000116824.CD2
      </div>
      <ComposedChart width={1344} height={960} margin={{ top: 92, right: 34, bottom: 0, left: 0 }}>
        <XAxis
          type="number"
          dataKey="x"
          domain={[-0.6, 11.6]}
          ticks={categories.map((_, i) => i)}
          interval={0}
          allowDataOverflow
          height={274}
          tickSize={7}
          tickMargin={2}
          tick={<CategoryTick />}
          axisLine={{ stroke: "#000", strokeWidth: 2.3 }}
          tickLine={{ stroke: "#000", strokeWidth: 2.3 }}
          label={(p: any) => (
            <text
              x={p.viewBox.x + p.viewBox.width / 2}
              y={p.viewBox.y + 233}
              textAnchor="middle"
              fontSize={36}
              fill="#000"
              fontFamily={FONT}
            >
              Identity
            </text>
          )}
        />
        <YAxis
          type="number"
          dataKey="y"
          domain={[-0.236, 5.154]}
          ticks={yTicks}
          interval={0}
          allowDataOverflow
          width={113}
          tickSize={7}
          tickMargin={12}
          tick={{ fill: "#000", fontSize: 30, fontFamily: FONT }}
          axisLine={{ stroke: "#000", strokeWidth: 2.3 }}
          tickLine={{ stroke: "#000", strokeWidth: 2.3 }}
          label={(p: any) => {
            const cx = p.viewBox.x + 59;
            const cy = p.viewBox.y + p.viewBox.height / 2;
            return (
              <text
                x={cx}
                y={cy}
                transform={`rotate(-90 ${cx} ${cy})`}
                textAnchor="middle"
                fontSize={36}
                fill="#000"
                fontFamily={FONT}
              >
                Expression Level
              </text>
            );
          }}
        />
        {violinData.map((d, i) =>
          d.length ? (
            <Scatter
              key={`violin-${i}`}
              data={d}
              isAnimationActive={false}
              shape={() => <g />}
              line={violinPath(categories[i] === "Tcell" ? VIOLIN_FILL : "none")}
              lineType="joint"
            />
          ) : null
        )}
        {cellData.map((d, i) => (
          <Scatter key={`cells-${i}`} data={d} isAnimationActive={false} shape={<CellDot />} />
        ))}
      </ComposedChart>
    </div>
  );
}
